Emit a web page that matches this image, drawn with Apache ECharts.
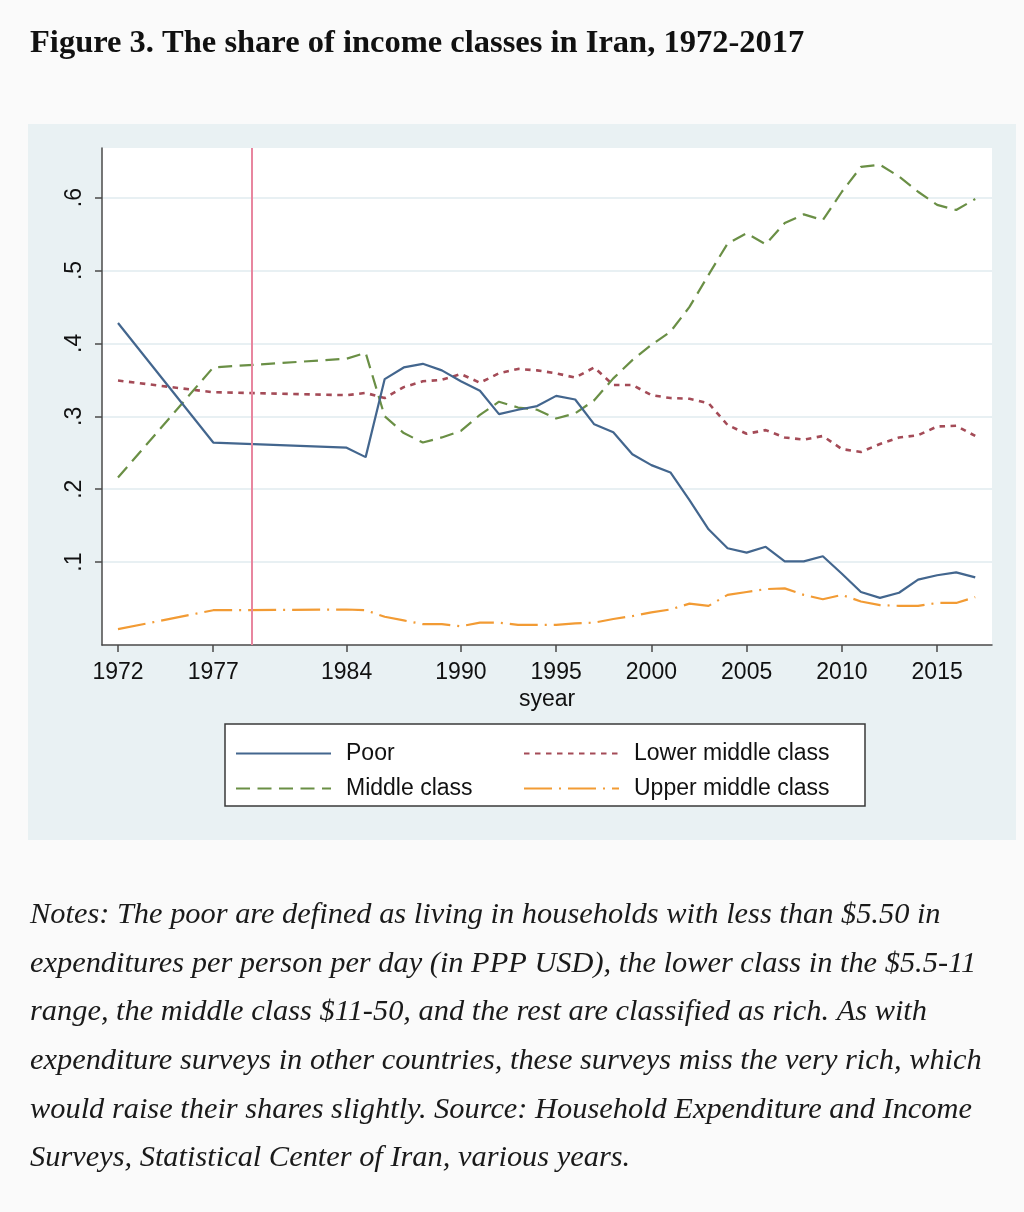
<!DOCTYPE html>
<html><head><meta charset="utf-8">
<script src="https://cdn.jsdelivr.net/npm/echarts@6/dist/echarts.min.js"></script>
<style>html,body{margin:0;padding:0;background:#fafafa}#c{width:1024px;height:1212px}</style>
</head><body><div id="c"></div><script>
const titleText = 'Figure 3. The share of income classes in Iran, 1972-2017';
const years = [1972,1977,1984,1985,1986,1987,1988,1989,1990,1991,1992,1993,1994,1995,1996,1997,1998,1999,2000,2001,2002,2003,2004,2005,2006,2007,2008,2009,2010,2011,2012,2013,2014,2015,2016,2017];
const poor = [0.428,0.264,0.257,0.244,0.351,0.367,0.372,0.363,0.348,0.335,0.303,0.309,0.314,0.328,0.323,0.289,0.278,0.248,0.233,0.223,0.185,0.145,0.119,0.113,0.121,0.101,0.101,0.108,0.084,0.059,0.051,0.058,0.076,0.082,0.086,0.079];
const middleClass = [0.216,0.367,0.379,0.387,0.300,0.277,0.264,0.271,0.280,0.302,0.320,0.312,0.309,0.297,0.304,0.322,0.352,0.377,0.398,0.416,0.450,0.494,0.537,0.551,0.536,0.565,0.577,0.569,0.608,0.642,0.645,0.629,0.608,0.590,0.583,0.598];
const lowerMiddle = [0.349,0.333,0.329,0.332,0.325,0.340,0.348,0.350,0.358,0.346,0.359,0.365,0.363,0.359,0.353,0.367,0.343,0.343,0.329,0.325,0.324,0.318,0.288,0.276,0.281,0.271,0.268,0.273,0.255,0.251,0.262,0.271,0.274,0.286,0.287,0.273];
const upperMiddle = [0.008,0.034,0.035,0.034,0.025,0.020,0.015,0.015,0.012,0.017,0.017,0.014,0.014,0.014,0.016,0.017,0.022,0.026,0.031,0.035,0.043,0.040,0.055,0.059,0.063,0.064,0.055,0.049,0.055,0.046,0.041,0.040,0.040,0.044,0.044,0.052];
const xTicks = [1972,1977,1984,1990,1995,2000,2005,2010,2015];
const yTicks = [0.1,0.2,0.3,0.4,0.5,0.6];
const yTickLabels = ['.1','.2','.3','.4','.5','.6'];
const eventYear = [1979];
const xAxisTitle = 'syear';
const notesLines = [
 'Notes: The poor are defined as living in households with less than $5.50 in',
 'expenditures per person per day (in PPP USD), the lower class in the $5.5-11',
 'range, the middle class $11-50, and the rest are classified as rich. As with',
 'expenditure surveys in other countries, these surveys miss the very rich, which',
 'would raise their shares slightly. Source: Household Expenditure and Income',
 'Surveys, Statistical Center of Iran, various years.'
];

const pair = arr => years.map((y,i)=>[y,arr[i]]);
const chart = echarts.init(document.getElementById('c'), null, {renderer:'canvas'});
const sans = 'Liberation Sans, Arial, Helvetica, sans-serif';
const serif = 'Liberation Serif, Times New Roman, serif';

const graphics = [
  {type:'rect', z:-10, shape:{x:28,y:124,width:988,height:716}, style:{fill:'#e9f1f3'}, silent:true},
  {type:'rect', z:5, shape:{x:225,y:724,width:640,height:82}, style:{fill:'#ffffff', stroke:'#3a3a3a', lineWidth:1.5}, silent:true},
  {type:'text', x:30, y:44, style:{text:titleText, font:'bold 32.5px '+serif, fill:'#111', verticalAlign:'middle'}}
];
notesLines.forEach((t,i)=>{
  graphics.push({type:'text', x:30, y:915 + i*48.7, style:{text:t, font:'italic 30.4px '+serif, fill:'#1a1a1a', verticalAlign:'middle'}});
});

const legendText = {fontFamily:sans, fontSize:23, color:'#111', padding:[0,0,0,10]};
const legendCommon = {orient:'vertical', top:742, padding:0, itemWidth:95, itemHeight:14, itemGap:12, textStyle:legendText, z:10, selectedMode:false, itemStyle:{opacity:0}};
chart.setOption({
  backgroundColor:'#fafafa',
  animation:false,
  graphic:graphics,
  grid:{left:102, top:148, width:890, height:497, show:true, backgroundColor:'#ffffff', borderWidth:0},
  legend:[
    Object.assign({data:['Poor','Middle class'], left:235}, legendCommon),
    Object.assign({data:['Lower middle class','Upper middle class'], left:523}, legendCommon)
  ],
  xAxis:{type:'value', min:1971.16, max:2017.88, name:xAxisTitle, nameLocation:'middle', nameGap:43,
    nameTextStyle:{fontFamily:sans, fontSize:23, color:'#111'},
    axisLine:{show:true, onZero:false, lineStyle:{color:'#4a4a4a', width:1.5}},
    axisTick:{show:true, length:7, customValues:xTicks, lineStyle:{color:'#4a4a4a', width:1.5}},
    axisLabel:{customValues:xTicks, fontFamily:sans, fontSize:23, color:'#111', margin:16, formatter:v=>String(v)},
    splitLine:{show:false}},
  yAxis:{type:'value', min:-0.0137, max:0.668,
    axisLine:{show:true, onZero:false, lineStyle:{color:'#4a4a4a', width:1.5}},
    axisTick:{show:true, length:7, customValues:yTicks, lineStyle:{color:'#4a4a4a', width:1.5}},
    axisLabel:{customValues:yTicks, rotate:90, fontFamily:sans, fontSize:23, color:'#111', margin:16,
      formatter:v=>{const i=yTicks.findIndex(t=>Math.abs(t-v)<1e-6);return i>=0?yTickLabels[i]:'';}},
    splitLine:{show:true, lineStyle:{color:'#e8f0f3', width:2}}},
  series:[
    {name:'Poor', type:'line', data:pair(poor), symbol:'none', z:4, lineStyle:{color:'#43668e', width:2.2, type:'solid'}, itemStyle:{color:'#43668e'},
     markLine:{silent:true, symbol:['none','none'], label:{show:false}, data:eventYear.map(v=>({xAxis:v})), lineStyle:{color:'#e8869f', width:2, type:'solid'}}},
    {name:'Lower middle class', type:'line', data:pair(lowerMiddle), symbol:'none', z:3, lineStyle:{color:'#a44b57', width:2.6, type:[5.5,5.5]}, itemStyle:{color:'#a44b57'}},
    {name:'Middle class', type:'line', data:pair(middleClass), symbol:'none', z:3, lineStyle:{color:'#6a8f45', width:2.2, type:[14,7.5]}, itemStyle:{color:'#6a8f45'}},
    {name:'Upper middle class', type:'line', data:pair(upperMiddle), symbol:'none', z:3, lineStyle:{color:'#f29b34', width:2.2, type:[28,7,2,7]}, itemStyle:{color:'#f29b34'}}
  ]
});
</script></body></html>
